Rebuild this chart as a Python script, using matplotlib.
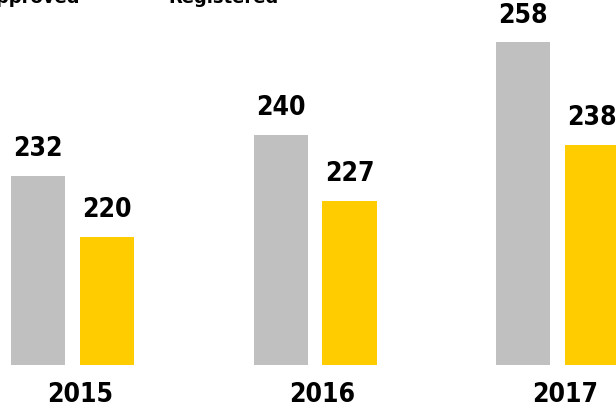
import numpy as np
import matplotlib.pyplot as plt
from matplotlib import font_manager

years = ['2015', '2016', '2017']
approved = [232, 240, 258]
registered = [220, 227, 238]

names = sorted({f.name for f in font_manager.fontManager.ttflist})
print(names)
font = ['DejaVu Sans']

fig = plt.figure(figsize=(6.16, 4.13), dpi=100)
ax = fig.add_axes([0, 48 / 413, 1, 365 / 413])

base = 195
x = np.arange(len(years))
w = 0.223
off = 0.142
b1 = ax.bar(x - off, [v - base for v in approved], w, bottom=base, color='#c0c0c0')
b2 = ax.bar(x + off, [v - base for v in registered], w, bottom=base, color='#ffcc00')

for bars, vals in [(b1, approved), (b2, registered)]:
    for bar, v in zip(bars, vals):
        ax.annotate(str(v), (bar.get_x() + bar.get_width() / 2, v),
                    xytext=(0, 10), textcoords='offset points',
                    ha='center', va='bottom', fontsize=19, fontweight='bold',
                    family=font, fontstretch='condensed')

ax.set_xlim(-0.299, 2.241)
ax.set_ylim(base, 266.3)
ax.set_xticks(x + 0.03)
ax.set_xticklabels(years, fontsize=19, fontweight='bold', family=font,
                   fontstretch='condensed')
ax.tick_params(axis='x', length=0, pad=12)
ax.set_yticks([])
for s in ax.spines.values():
    s.set_visible(False)

# legend text, cut off at the top edge
fig.text(80 / 616, 1 - 3 / 413, 'Approved', ha='right', va='baseline',
         fontsize=13, fontweight='heavy')
fig.text(168 / 616, 1 - 3 / 413, 'Registered', ha='left', va='baseline',
         fontsize=13, fontweight='heavy')

fig.savefig('out.png', dpi=100)
